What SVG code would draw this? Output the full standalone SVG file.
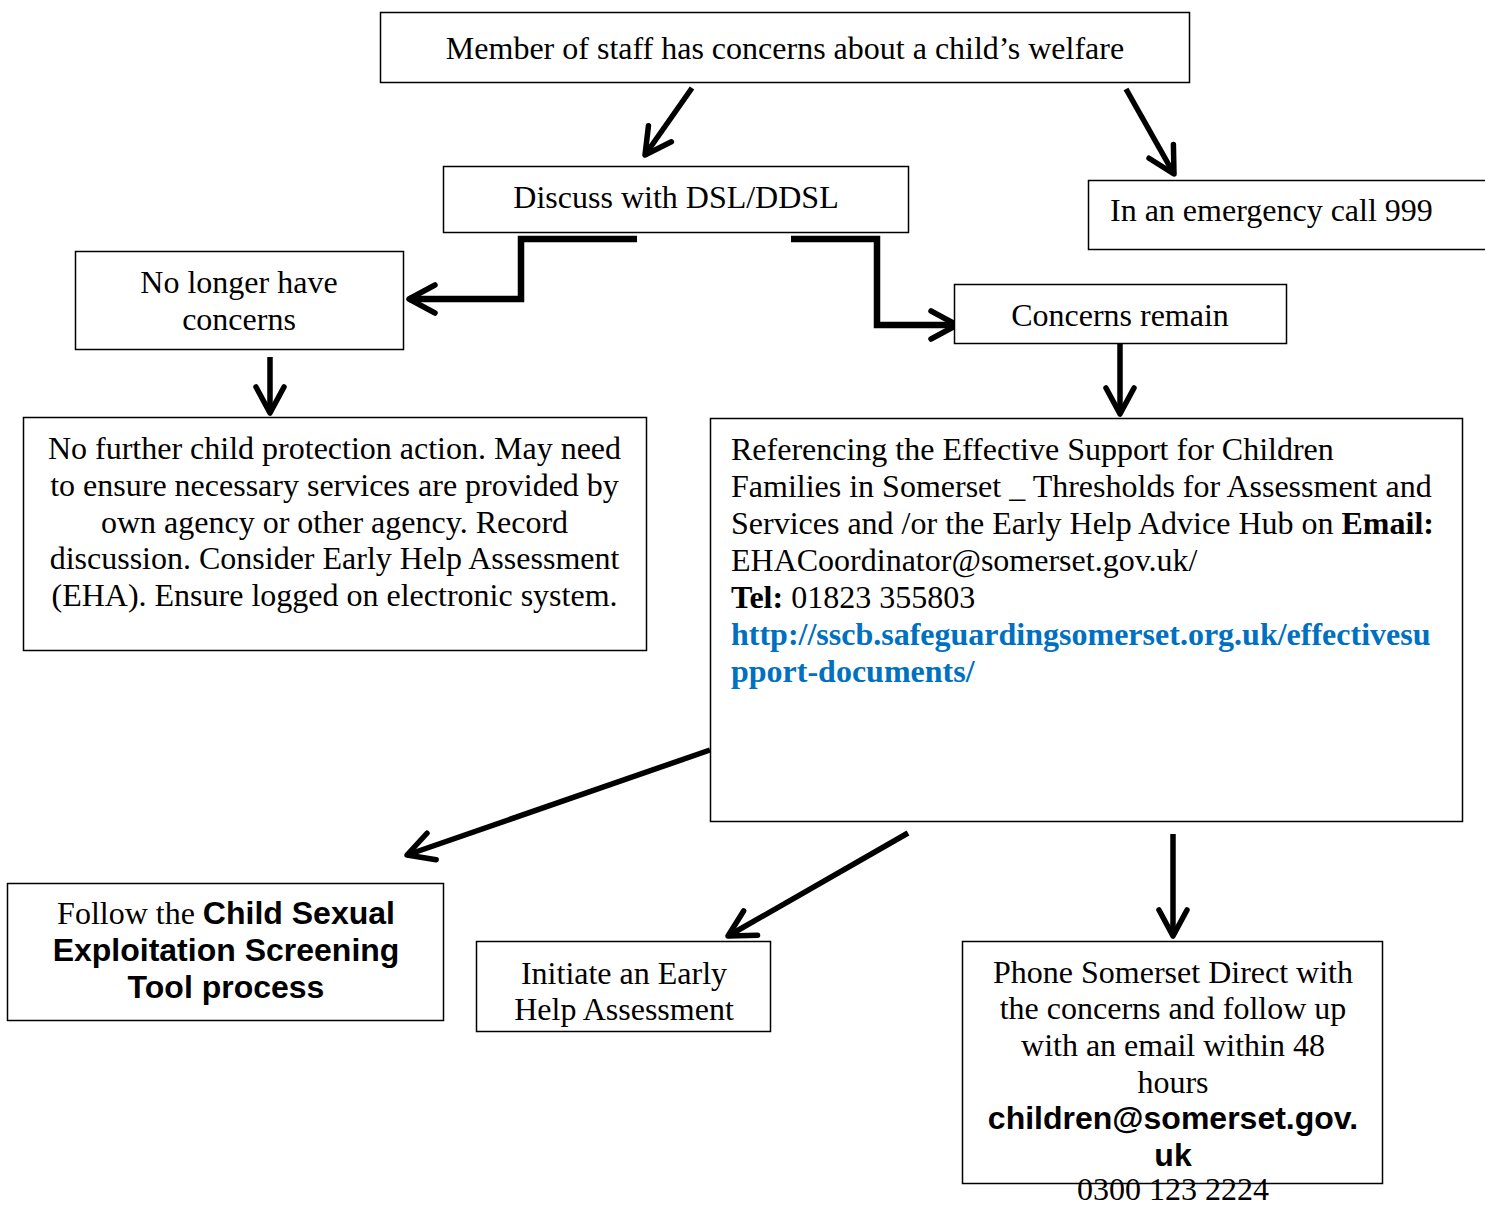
<svg xmlns="http://www.w3.org/2000/svg" width="1485" height="1205" viewBox="0 0 1485 1205">
<style>
.box{fill:#fff;stroke:#000;stroke-width:1.5}
.t{font-family:"Liberation Serif","Times New Roman",serif;font-size:32px;fill:#000}
.c{text-anchor:middle}
.sb{font-family:"Liberation Sans",Arial,sans-serif;font-weight:bold}
.b{font-weight:bold}
.link{fill:#0070C0;font-weight:bold}
.con{fill:none;stroke:#000;stroke-width:5.5;marker-end:url(#ah)}
.el{fill:none;stroke:#000;stroke-width:6.5;stroke-linejoin:miter;marker-end:url(#ah)}
</style>
<defs>
<marker id="ah" viewBox="-32 -17 40 34" refX="0" refY="0" markerWidth="40" markerHeight="34" markerUnits="userSpaceOnUse" orient="auto">
<path d="M-26,-14 L0,0 L-26,14" fill="none" stroke="#000" stroke-width="5.5" stroke-linecap="round" stroke-linejoin="round"/>
</marker>
</defs>
<rect width="1485" height="1205" fill="#fff"/>

<g id="connectors">
<line class="con" x1="692" y1="88" x2="645" y2="155"/>
<line class="con" x1="1126" y1="89" x2="1174" y2="174"/>
<polyline class="el" points="637,239 521,239 521,299 409,299"/>
<polyline class="el" points="791,239 877,239 877,325 957,325"/>
<line class="con" x1="270" y1="357" x2="270" y2="413"/>
<line class="con" x1="1120" y1="344" x2="1120" y2="414"/>
<line class="con" x1="710" y1="750" x2="407" y2="855"/>
<line class="con" x1="908" y1="833" x2="728" y2="936"/>
<line class="con" x1="1173" y1="834" x2="1173" y2="936"/>
</g>

<g id="n1">
<rect class="box" x="380.5" y="12.5" width="809" height="70"/>
<text class="t c" x="785" y="59">Member of staff has concerns about a child’s welfare</text>
</g>

<g id="n2">
<rect class="box" x="443.5" y="166.5" width="465" height="66"/>
<text class="t c" x="676" y="208">Discuss with DSL/DDSL</text>
</g>

<g id="n3">
<rect class="box" x="1088.5" y="180.5" width="402" height="69"/>
<text class="t" x="1110" y="221">In an emergency call 999</text>
</g>

<g id="n4">
<rect class="box" x="75.5" y="251.5" width="328" height="98"/>
<text class="t c" x="239" y="293">No longer have</text>
<text class="t c" x="239" y="330">concerns</text>
</g>

<g id="n5">
<rect class="box" x="954.5" y="284.5" width="332" height="59"/>
<text class="t c" x="1120" y="326">Concerns remain</text>
</g>

<g id="n6">
<rect class="box" x="23.5" y="417.5" width="623" height="233"/>
<text class="t c" x="334.5" y="459">No further child protection action. May need</text>
<text class="t c" x="334.5" y="496">to ensure necessary services are provided by</text>
<text class="t c" x="334.5" y="533">own agency or other agency. Record</text>
<text class="t c" x="334.5" y="569">discussion. Consider Early Help Assessment</text>
<text class="t c" x="334.5" y="606">(EHA). Ensure logged on electronic system.</text>
</g>

<g id="n7">
<rect class="box" x="710.5" y="418.5" width="752" height="403"/>
<text class="t" x="731" y="460">Referencing the Effective Support for Children</text>
<text class="t" x="731" y="497">Families in Somerset _ Thresholds for Assessment and</text>
<text class="t" x="731" y="534">Services and /or the Early Help Advice Hub on <tspan class="b">Email:</tspan></text>
<text class="t" x="731" y="571">EHACoordinator@somerset.gov.uk/</text>
<text class="t" x="731" y="608"><tspan class="b">Tel:</tspan> 01823 355803</text>
<text class="t link" x="731" y="645">http://sscb.safeguardingsomerset.org.uk/effectivesu</text>
<text class="t link" x="731" y="682">pport-documents/</text>
</g>

<g id="n8">
<rect class="box" x="7.5" y="883.5" width="436" height="137"/>
<text class="t c" x="226" y="924">Follow the <tspan class="sb">Child Sexual</tspan></text>
<text class="t c sb" x="226" y="961">Exploitation Screening</text>
<text class="t c sb" x="226" y="998">Tool process</text>
</g>

<g id="n9">
<rect class="box" x="476.5" y="941.5" width="294" height="90"/>
<text class="t c" x="624" y="984">Initiate an Early</text>
<text class="t c" x="624" y="1020">Help Assessment</text>
</g>

<g id="n10">
<rect class="box" x="962.5" y="941.5" width="420" height="242"/>
<text class="t c" x="1173" y="983">Phone Somerset Direct with</text>
<text class="t c" x="1173" y="1019">the concerns and follow up</text>
<text class="t c" x="1173" y="1056">with an email within 48</text>
<text class="t c" x="1173" y="1093">hours</text>
<text class="t c sb" x="1173" y="1129">children@somerset.gov.</text>
<text class="t c sb" x="1173" y="1166">uk</text>
<text class="t c" x="1173" y="1200">0300 123 2224</text>
</g>
</svg>
